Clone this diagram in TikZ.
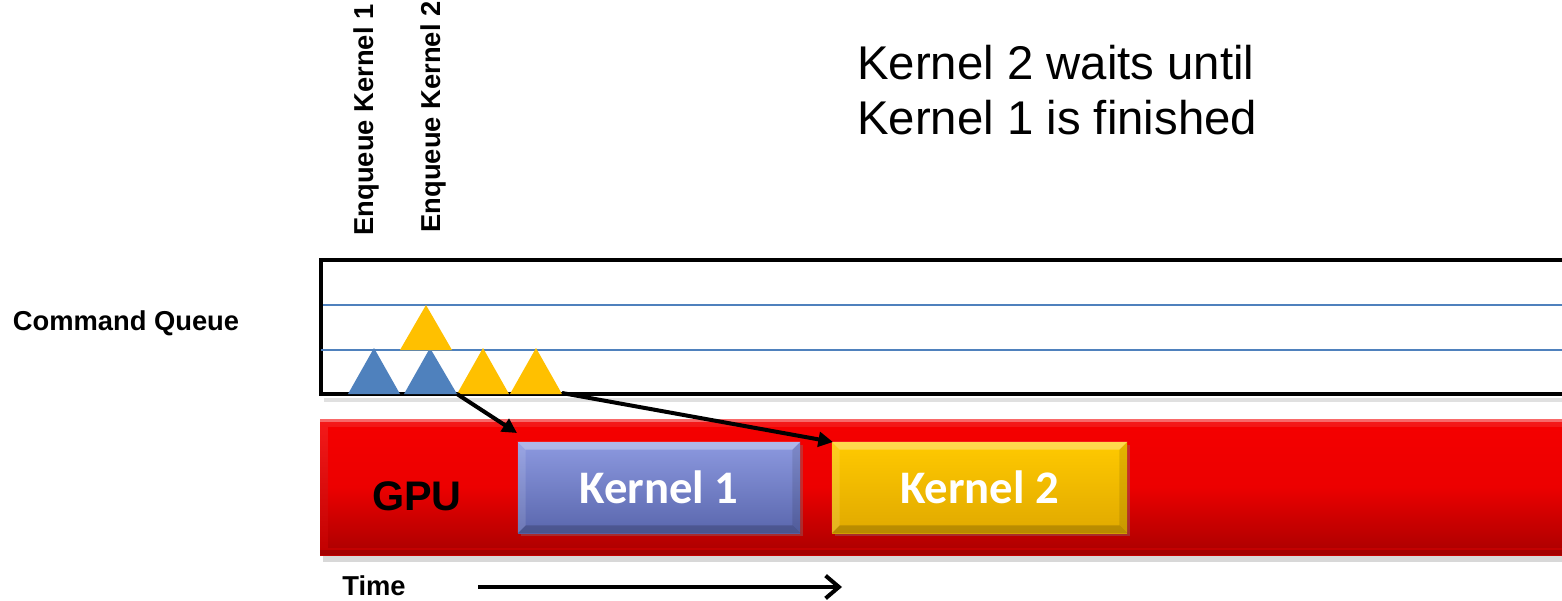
\documentclass[tikz,border=0pt]{standalone}
\usepackage{fontspec}
\setmainfont{Liberation Sans}
\newfontfamily\calibrifont{Carlito}
\usetikzlibrary{arrows.meta,shadows}

\definecolor{qblue}{HTML}{4F81BD}
\definecolor{qgold}{HTML}{FFC000}
\definecolor{gpured}{HTML}{F40000}
\definecolor{gpudark}{HTML}{C00000}
\definecolor{kblue}{HTML}{7080D8}

\tikzset{
  smalllabel/.style={font=\bfseries\fontsize{20.5}{24}\selectfont, inner sep=0pt},
  bigtext/.style={font=\fontsize{35.5}{41}\selectfont, anchor=base west, inner sep=0pt},
  kbox/.style={minimum height=91*0.75pt, inner sep=0pt,
    drop shadow={shadow xshift=2pt, shadow yshift=-2pt, opacity=0.35}},
  ktext/.style={inner sep=0pt, text=white, font=\calibrifont\bfseries\fontsize{35}{40}\selectfont},
  qline/.style={qblue, line width=1.5pt},
  conn/.style={line width=3pt, -{Triangle[length=11pt,width=11pt]}},
  timearrow/.style={line width=3pt, -{Straight Barb[length=10pt,width=17pt,line width=3pt]}},
}

\begin{document}
\begin{tikzpicture}[x=0.75pt,y=-0.75pt]
\clip (0,0) rectangle (1562,600);
\fill[white] (0,0) rectangle (1562,600);

% row labels and enqueue markers
\node[smalllabel] (cq) at (126,323) {Command Queue};
\node[smalllabel, rotate=90] (enq1) at (366,120) {Enqueue Kernel 1};
\node[smalllabel, rotate=90] (enq2) at (433,117) {Enqueue Kernel 2};

% caption
\node[bigtext] (cap1) at (857,79) {Kernel 2 waits until};
\node[bigtext] (cap2) at (857,134) {Kernel 1 is finished};

% command queue frame
\fill[black!12] (324,398) rectangle (1570,402);
\draw[black, line width=2.6pt, fill=white] (321,260) rectangle (1575,394);
\draw[qline] (323,305) -- (1562,305);
\draw[qline] (321,350) -- (1562,350);

% queued commands
\fill[qblue] (348,394) -- (374,348) -- (400,394) -- cycle;
\fill[qblue] (404,394) -- (430,348) -- (457,394) -- cycle;
\fill[qgold] (457,394) -- (483,348) -- (509,394) -- cycle;
\fill[qgold] (510,394) -- (536,348) -- (562,394) -- cycle;
\fill[qgold] (400,350) -- (426,305) -- (452,350) -- cycle;
\coordinate (q1out) at (457,394);
\coordinate (q2out) at (562,393);

% GPU bar
\fill[black!25, opacity=0.6] (323,555) rectangle (1570,562);
\shade[top color=gpured!90!white, bottom color=gpudark] (320,419) rectangle (1575,555);
\shade[top color=gpured, bottom color=gpudark!92!black, middle color=gpured!85!gpudark]
  (328,427) rectangle (1575,547);
\fill[white, opacity=0.35] (320,419) rectangle (1575,422);
\fill[black, opacity=0.15] (320,550) rectangle (1575,555);
\node[font=\bfseries\fontsize{31}{36}\selectfont, inner sep=0pt] (gpu) at (417,496) {GPU};

% kernels
\node[kbox, minimum width=282*0.75pt, top color=kblue!80!white, bottom color=kblue!80!black] (k1) at (659,487.5) {};
\node[kbox, minimum width=295*0.75pt, top color=qgold!85!yellow, bottom color=qgold!88!black] (k2) at (979.5,487.5) {};
\foreach \k in {k1,k2}{
  \fill[white, opacity=0.3] (\k.north west) -- (\k.north east)
    -- ([shift={(-8,8)}]\k.north east) -- ([shift={(8,8)}]\k.north west) -- cycle;
  \fill[white, opacity=0.12] (\k.north west) -- ([shift={(8,8)}]\k.north west)
    -- ([shift={(8,-8)}]\k.south west) -- (\k.south west) -- cycle;
  \fill[black, opacity=0.18] (\k.south west) -- (\k.south east)
    -- ([shift={(-8,-8)}]\k.south east) -- ([shift={(8,-8)}]\k.south west) -- cycle;
  \fill[black, opacity=0.1] (\k.north east) -- ([shift={(-8,8)}]\k.north east)
    -- ([shift={(-8,-8)}]\k.south east) -- (\k.south east) -- cycle;
}
\node[ktext] (k1t) at (k1.center) {Kernel 1};
\node[ktext] (k2t) at (k2.center) {Kernel 2};

% dispatch arrows
\coordinate (k1in) at (517,433);
\coordinate (k2in) at (833,442);
\draw[conn] (q1out) -- (k1in);
\draw[conn] (q2out) -- (k2in);

% time axis
\node[smalllabel] (time) at (374,586) {Time};
\coordinate (tstart) at (478,587);
\coordinate (tend) at (842,587);
\draw[timearrow] (tstart) -- (tend);
\end{tikzpicture}
\end{document}
